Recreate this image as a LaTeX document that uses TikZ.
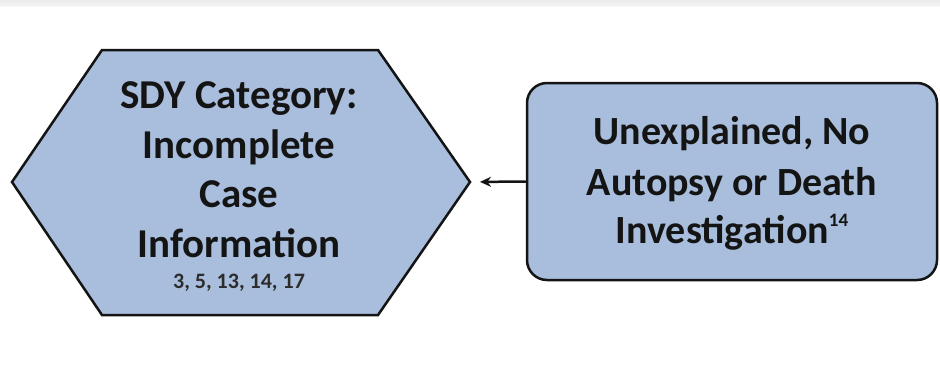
\documentclass[tikz,border=0pt]{standalone}
\usepackage{fontspec}
\setmainfont{Carlito}
\usetikzlibrary{arrows.meta}
\definecolor{boxfill}{RGB}{169,190,221}
\definecolor{ink}{RGB}{20,20,20}
\tikzset{
  shapeline/.style={draw=ink, line width=2.5pt, fill=boxfill},
  bigtxt/.style={font=\bfseries\fontsize{41}{44}\selectfont, text=ink, inner sep=0pt, anchor=base},
  boxtxt/.style={font=\bfseries\fontsize{40}{44}\selectfont, text=ink, inner sep=0pt, anchor=base},
  reftxt/.style={font=\bfseries\fontsize{22}{24}\selectfont, text=ink!90, inner sep=0pt, anchor=base},
  conn/.style={draw=ink, line width=2.5pt, -{Stealth[length=11pt,width=10pt]}}
}
\begin{document}
\begin{tikzpicture}[x=1pt,y=-1pt]
\useasboundingbox (0,0) rectangle (940,368);
\fill[white] (0,0) rectangle (940,368);
\shade[top color=black!8, bottom color=black!4] (0,0) rectangle (940,6);
% hexagon
\coordinate (hTL) at (102,50);
\coordinate (hTR) at (378,50);
\coordinate (hR) at (470,182);
\coordinate (hBR) at (378,315);
\coordinate (hBL) at (102,315);
\coordinate (hL) at (12,182);
\path[shapeline] (hTL) -- (hTR) -- (hR) -- (hBR) -- (hBL) -- (hL) -- cycle;
\node[bigtxt] (h1) at (239,108) {SDY Category:};
\node[bigtxt] (h2) at (239,158) {Incomplete};
\node[bigtxt] (h3) at (239,207) {Case};
\node[bigtxt] (h4) at (239,257) {Information};
\node[reftxt] (h5) at (239,288) {3, 5, 13, 14, 17};
% rounded box
\node[shapeline, rounded corners=20pt, minimum width=410pt, minimum height=197pt, inner sep=0pt] (b) at (732,181.5) {};
\node[boxtxt] (b1) at (732,144) {Unexplained, No};
\node[boxtxt] (b2) at (732,195) {Autopsy or Death};
\node[boxtxt] (b3) at (732,243) {Investigation\raisebox{17pt}{\fontsize{19}{19}\selectfont 14}};
% connector
\draw[conn, shorten >=10pt] (b.west) -- (hR);
\end{tikzpicture}
\end{document}
